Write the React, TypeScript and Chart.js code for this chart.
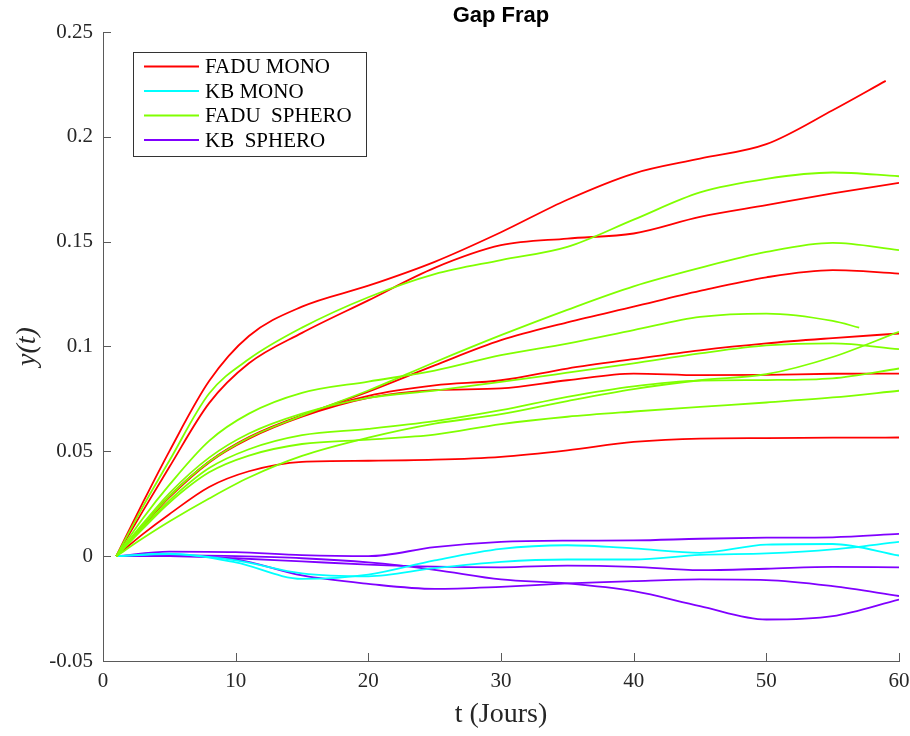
import React, { useEffect, useRef } from "react";
import { Chart, registerables } from "chart.js";

Chart.register(...registerables);

// ---- Data ----
const DAYS = [1, 3, 5, 8, 11, 15, 20, 25, 30, 35, 40, 45, 50, 55, 60];
const DAYS_R1 = [1, 3, 5, 8, 11, 15, 20, 25, 30, 35, 40, 45, 50, 55, 59];
const DAYS_G3 = [1, 3, 5, 8, 11, 15, 20, 25, 30, 35, 40, 45, 50, 55, 57];
const KB_DAYS = [1, 5, 10, 15, 20, 25, 30, 35, 40, 45, 50, 55, 60];

// FADU MONO (red)
const FADU_MONO_1 = [0, 0.0255, 0.05, 0.0835, 0.105, 0.119, 0.129, 0.1404, 0.1545, 0.17, 0.1825, 0.1896, 0.1965, 0.2127, 0.2267];
const FADU_MONO_2 = [0, 0.0215, 0.0425, 0.073, 0.092, 0.1065, 0.122, 0.1375, 0.1483, 0.1515, 0.1539, 0.1618, 0.1674, 0.173, 0.178];
const FADU_MONO_3 = [0, 0.0145, 0.0285, 0.045, 0.0565, 0.067, 0.0785, 0.091, 0.103, 0.1115, 0.119, 0.1265, 0.133, 0.1364, 0.1348];
const FADU_MONO_4 = [0, 0.0145, 0.0285, 0.0452, 0.0568, 0.0672, 0.0765, 0.0815, 0.0839, 0.0895, 0.094, 0.0982, 0.1015, 0.104, 0.1062];
const FADU_MONO_5 = [0, 0.0143, 0.028, 0.0447, 0.056, 0.0665, 0.0755, 0.0792, 0.08, 0.0839, 0.0871, 0.0863, 0.0865, 0.087, 0.0871];
const FADU_MONO_6 = [0, 0.0105, 0.02, 0.033, 0.0405, 0.045, 0.0455, 0.046, 0.0474, 0.0505, 0.0545, 0.0561, 0.0563, 0.0565, 0.0566];

// FADU SPHERO (green)
const FADU_SPHERO_1 = [0, 0.0235, 0.0455, 0.0776, 0.094, 0.109, 0.1235, 0.1345, 0.1412, 0.1475, 0.1605, 0.1735, 0.18, 0.183, 0.1812];
const FADU_SPHERO_2 = [0, 0.0145, 0.0285, 0.045, 0.0565, 0.067, 0.079, 0.0925, 0.1054, 0.1175, 0.1287, 0.1375, 0.1451, 0.1494, 0.146];
const FADU_SPHERO_3 = [0, 0.018, 0.034, 0.055, 0.068, 0.0779, 0.0833, 0.0885, 0.0959, 0.1014, 0.1078, 0.1141, 0.1157, 0.1122, 0.109];
const FADU_SPHERO_4 = [0, 0.0085, 0.0165, 0.0275, 0.0375, 0.0478, 0.0565, 0.0632, 0.0677, 0.074, 0.0797, 0.0839, 0.0868, 0.095, 0.107];
const FADU_SPHERO_5 = [0, 0.0155, 0.03, 0.047, 0.0585, 0.068, 0.0755, 0.079, 0.0831, 0.0875, 0.092, 0.0967, 0.1005, 0.1015, 0.0987];
const FADU_SPHERO_6 = [0, 0.0135, 0.0265, 0.042, 0.051, 0.0577, 0.0607, 0.0644, 0.0696, 0.076, 0.081, 0.0837, 0.084, 0.0848, 0.0895];
const FADU_SPHERO_7 = [0, 0.013, 0.0255, 0.04, 0.048, 0.0535, 0.0556, 0.058, 0.063, 0.0665, 0.069, 0.0712, 0.0733, 0.0757, 0.0789];

// KB MONO (cyan)
const KB_MONO_1 = [0, 0.0012, -0.003, -0.0108, -0.0088, -0.002, 0.0035, 0.0052, 0.0037, 0.0016, 0.0055, 0.0058, 0.0003];
const KB_MONO_2 = [0, 0.001, -0.002, -0.0082, -0.0096, -0.0057, -0.0027, -0.0016, -0.0016, 0.0006, 0.0013, 0.0032, 0.0068];

// KB SPHERO (purple)
const KB_SPHERO_1 = [0, 0.0022, 0.0019, 0.0005, 0.0, 0.0043, 0.0068, 0.0074, 0.0075, 0.0083, 0.0088, 0.009, 0.0106];
const KB_SPHERO_2 = [0, 0.0, -0.001, -0.0025, -0.004, -0.005, -0.0053, -0.0045, -0.0051, -0.0067, -0.006, -0.0051, -0.0053];
const KB_SPHERO_3 = [0, 0.0005, 0.0, -0.001, -0.003, -0.0065, -0.0111, -0.013, -0.0167, -0.0238, -0.0302, -0.0286, -0.0207];
const KB_SPHERO_4 = [0, 0.0, -0.0015, -0.0092, -0.0132, -0.0156, -0.0146, -0.013, -0.0119, -0.0111, -0.0114, -0.0143, -0.019];

const LEGEND_LABELS = ["FADU MONO", "KB MONO", "FADU  SPHERO", "KB  SPHERO"];
const COLORS = ["#ff0000", "#00ffff", "#80ff00", "#8000ff"];

const X_TICK_VALUES = [0, 10, 20, 30, 40, 50, 60];
const X_TICK_LABELS = ["0", "10", "20", "30", "40", "50", "60"];
const Y_TICK_VALUES = [-0.05, 0, 0.05, 0.1, 0.15, 0.2, 0.25];
const Y_TICK_LABELS = ["-0.05", "0", "0.05", "0.1", "0.15", "0.2", "0.25"];

const SERIES: { days: number[]; values: number[]; group: number }[] = [
  { days: DAYS, values: FADU_SPHERO_1, group: 2 },
  { days: DAYS, values: FADU_SPHERO_2, group: 2 },
  { days: DAYS_G3, values: FADU_SPHERO_3, group: 2 },
  { days: DAYS, values: FADU_SPHERO_4, group: 2 },
  { days: DAYS, values: FADU_SPHERO_5, group: 2 },
  { days: DAYS, values: FADU_SPHERO_6, group: 2 },
  { days: DAYS, values: FADU_SPHERO_7, group: 2 },
  { days: DAYS_R1, values: FADU_MONO_1, group: 0 },
  { days: DAYS, values: FADU_MONO_2, group: 0 },
  { days: DAYS, values: FADU_MONO_3, group: 0 },
  { days: DAYS, values: FADU_MONO_4, group: 0 },
  { days: DAYS, values: FADU_MONO_5, group: 0 },
  { days: DAYS, values: FADU_MONO_6, group: 0 },
  { days: KB_DAYS, values: KB_MONO_1, group: 1 },
  { days: KB_DAYS, values: KB_MONO_2, group: 1 },
  { days: KB_DAYS, values: KB_SPHERO_1, group: 3 },
  { days: KB_DAYS, values: KB_SPHERO_2, group: 3 },
  { days: KB_DAYS, values: KB_SPHERO_3, group: 3 },
  { days: KB_DAYS, values: KB_SPHERO_4, group: 3 },
];

const SERIF = "'Liberation Serif', 'Times New Roman', serif";
const SANS = "'Liberation Sans', Arial, Helvetica, sans-serif";
const AXIS_COLOR = "#5a5a5a";

const tickMarksPlugin = {
  id: "inwardTicks",
  afterDraw(chart: any) {
    const { ctx, chartArea, scales } = chart;
    ctx.save();
    ctx.strokeStyle = AXIS_COLOR;
    ctx.lineWidth = 1;
    ctx.beginPath();
    scales.x.ticks.forEach((t: any) => {
      const px = Math.round(scales.x.getPixelForValue(t.value)) + 0.5;
      ctx.moveTo(px, chartArea.bottom);
      ctx.lineTo(px, chartArea.bottom - 8);
    });
    scales.y.ticks.forEach((t: any) => {
      const py = Math.round(scales.y.getPixelForValue(t.value)) + 0.5;
      ctx.moveTo(chartArea.left, py);
      ctx.lineTo(chartArea.left + 8, py);
    });
    ctx.stroke();
    ctx.restore();
  },
};

const boxLegendPlugin = {
  id: "boxLegend",
  afterDraw(chart: any) {
    const { ctx, chartArea } = chart;
    const x0 = Math.round(chartArea.left + 30);
    const y0 = Math.round(chartArea.top + 20);
    const w = 233;
    const h = 104;
    ctx.save();
    ctx.fillStyle = "#ffffff";
    ctx.fillRect(x0, y0, w, h);
    ctx.strokeStyle = "#333333";
    ctx.lineWidth = 1;
    ctx.strokeRect(x0 + 0.5, y0 + 0.5, w, h);
    ctx.font = `21px ${SERIF}`;
    ctx.textBaseline = "middle";
    ctx.textAlign = "left";
    LEGEND_LABELS.forEach((label, i) => {
      const y = y0 + 14.5 + i * 24.5;
      ctx.strokeStyle = COLORS[i];
      ctx.lineWidth = 1.8;
      ctx.beginPath();
      ctx.moveTo(x0 + 11, y);
      ctx.lineTo(x0 + 66, y);
      ctx.stroke();
      ctx.fillStyle = "#000000";
      ctx.fillText(label, x0 + 72, y + 1);
    });
    ctx.restore();
  },
};

export default function App() {
  const ref = useRef<HTMLCanvasElement | null>(null);

  useEffect(() => {
    if (!ref.current) return;
    const datasets = SERIES.map((s) => ({
      label: LEGEND_LABELS[s.group],
      data: s.days.map((d, i) => ({ x: d, y: s.values[i] })),
      borderColor: COLORS[s.group],
      backgroundColor: COLORS[s.group],
      borderWidth: 1.8,
      pointRadius: 0,
      pointHoverRadius: 0,
      fill: false,
      cubicInterpolationMode: "monotone" as const,
    }));

    const chart = new Chart(ref.current, {
      type: "line",
      data: { datasets },
      options: {
        responsive: false,
        animation: false,
        layout: { padding: { left: 0, right: 11, top: 0, bottom: 0 } },
        plugins: {
          legend: { display: false },
          tooltip: { enabled: false },
          title: {
            display: true,
            text: "Gap Frap",
            fullSize: false,
            color: "#000000",
            font: { family: SANS, size: 22, weight: "bold", lineHeight: 1.2 },
            padding: { top: 3, bottom: 2.6 },
          },
        },
        scales: {
          x: {
            type: "linear",
            min: 0,
            max: 60,
            afterFit: (scale: any) => {
              scale.height = 75;
              scale.paddingLeft = 0;
              scale.paddingRight = 0;
            },
            afterBuildTicks: (scale: any) => {
              scale.ticks = X_TICK_VALUES.map((v) => ({ value: v }));
            },
            ticks: {
              color: "#262626",
              font: { family: SERIF, size: 21 },
              padding: 8,
              maxRotation: 0,
              autoSkip: false,
              callback: (_v: any, i: number) => X_TICK_LABELS[i],
            },
            grid: { display: false, drawTicks: false },
            border: { display: true, color: AXIS_COLOR, width: 1 },
            title: {
              display: true,
              text: "t (Jours)",
              color: "#262626",
              font: { family: SERIF, size: 28 },
              padding: { top: 0, bottom: 5 },
            },
          },
          y: {
            type: "linear",
            min: -0.05,
            max: 0.25,
            afterFit: (scale: any) => {
              scale.width = 103;
              scale.paddingTop = 0;
              scale.paddingBottom = 0;
            },
            afterBuildTicks: (scale: any) => {
              scale.ticks = Y_TICK_VALUES.map((v) => ({ value: v }));
            },
            ticks: {
              color: "#262626",
              font: { family: SERIF, size: 21 },
              padding: 10,
              autoSkip: false,
              callback: (_v: any, i: number) => Y_TICK_LABELS[i],
            },
            grid: { display: false, drawTicks: false },
            border: { display: true, color: AXIS_COLOR, width: 1 },
            title: {
              display: true,
              text: "y(t)",
              color: "#262626",
              font: { family: SERIF, size: 28, style: "italic" },
              padding: { top: 11, bottom: 0 },
            },
          },
        },
      },
      plugins: [tickMarksPlugin, boxLegendPlugin],
    } as any);

    return () => chart.destroy();
  }, []);

  return (
    <div style={{ position: "absolute", left: 0, top: 0, width: 910, height: 736, background: "#ffffff" }}>
      <canvas ref={ref} width={910} height={736} />
    </div>
  );
}
